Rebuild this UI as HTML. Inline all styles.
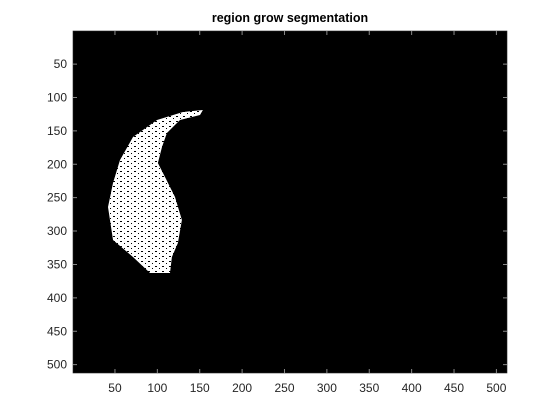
<!DOCTYPE html>
<html><head><meta charset="utf-8"><style>
html,body{margin:0;padding:0;background:#fff;}
svg{display:block;font-family:"Liberation Sans","DejaVu Sans",sans-serif;}
</style></head><body>
<svg id="chart" width="560" height="420">
<defs>
<pattern id="speck" width="7" height="5" patternUnits="userSpaceOnUse">
<rect width="7" height="5" fill="#fff"/>
<rect x="1" y="1" width="2" height="1" fill="#000"/>
<rect x="5" y="3" width="1" height="1" fill="#000"/>
</pattern>
</defs>
<text x="290" y="22" text-anchor="middle" font-size="12.5" font-weight="bold" fill="#000">region grow segmentation</text>
<rect x="73" y="31" width="434" height="342" fill="#000"/>
<g id="marks"></g>
<g id="axes"></g>
</svg>
<script>
const xTicks=[50,100,150,200,250,300,350,400,450,500];
const yTicks=[50,100,150,200,250,300,350,400,450,500];
const regionX=[153.8,150.3,126.7,111.3,105.5,100.7,109,120.8,129,124.3,117.2,114.9,91.3,71.3,47.7,41.8,47.7,55.9,71.3,99.6,130.2];
const regionY=[118.8,126.2,133.7,153.2,174.1,198.1,219,249,283.4,317.9,338.8,362.8,362.8,338.8,313.4,264,228,193.6,159.2,133.7,121.8];
const L=73,T=31,W=434,H=342,N=512;
const sx=v=>L+(v-0.5)*W/N;
const sy=v=>T+(v-0.5)*H/N;
const NS="http://www.w3.org/2000/svg";
const marks=document.getElementById('marks'),axes=document.getElementById('axes');
let d='';
regionX.forEach((x,i)=>{d+=(i?'L':'M')+sx(x).toFixed(1)+' '+sy(regionY[i]).toFixed(1);});
const p=document.createElementNS(NS,'path');
p.setAttribute('d',d+'Z');p.setAttribute('fill','url(#speck)');


marks.appendChild(p);
const box=document.createElementNS(NS,'rect');
box.setAttribute('x',L);box.setAttribute('y',T);box.setAttribute('width',W);box.setAttribute('height',H);
box.setAttribute('fill','none');box.setAttribute('stroke','#262626');box.setAttribute('stroke-width','0.6');


axes.appendChild(box);
xTicks.forEach(v=>{
 const x=sx(v);
 const t=document.createElementNS(NS,'path');
 t.setAttribute('d',`M${x} ${T+H}V${T+H-4}M${x} ${T}V${T+4}`);t.setAttribute('stroke','#888');
 
 
 axes.appendChild(t);
 const s=document.createElementNS(NS,'text');
 s.setAttribute('x',x);s.setAttribute('y',392);s.setAttribute('text-anchor','middle');s.setAttribute('font-size','12');s.setAttribute('fill','#262626');
 s.textContent=v;
 
 
 axes.appendChild(s);
});
yTicks.forEach(v=>{
 const y=sy(v);
 const t=document.createElementNS(NS,'path');
 t.setAttribute('d',`M${L} ${y}H${L+4}M${L+W} ${y}H${L+W-4}`);t.setAttribute('stroke','#888');
 
 
 axes.appendChild(t);
 const s=document.createElementNS(NS,'text');
 s.setAttribute('x',67);s.setAttribute('y',y+4);s.setAttribute('text-anchor','end');s.setAttribute('font-size','12');s.setAttribute('fill','#262626');
 s.textContent=v;
 
 
 axes.appendChild(s);
});
</script>
</body></html>
